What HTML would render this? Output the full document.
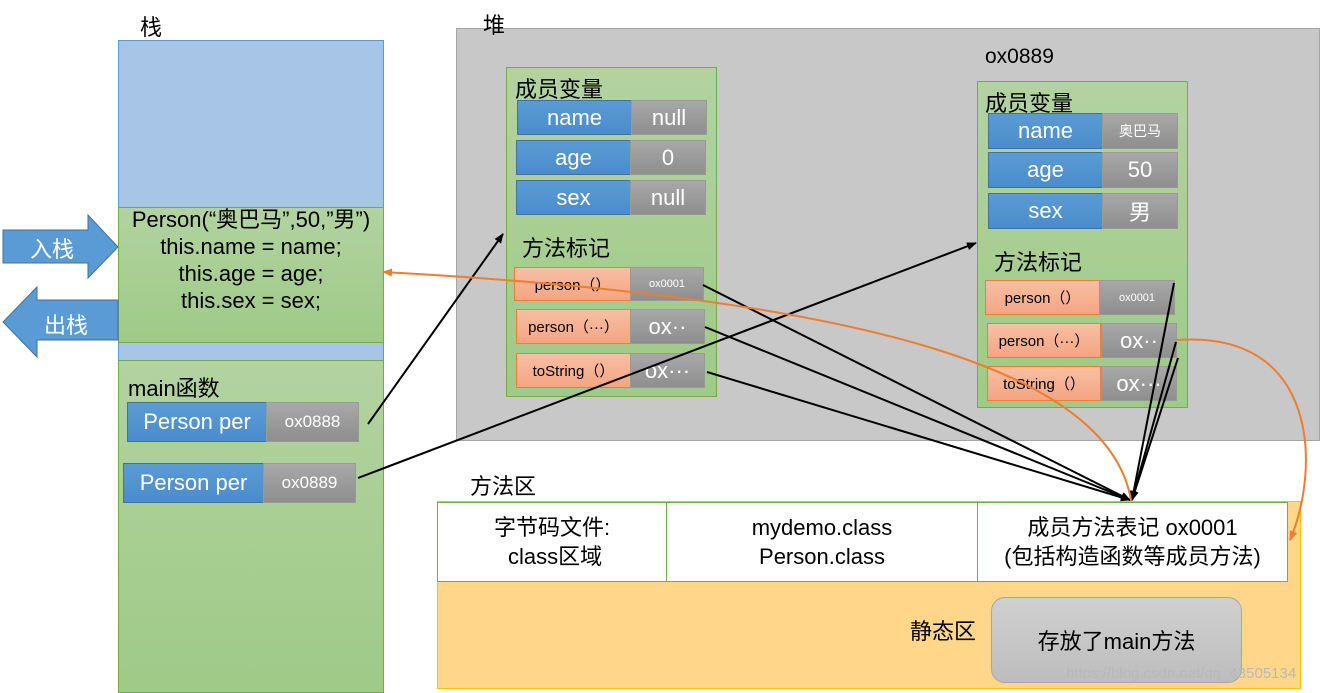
<!DOCTYPE html>
<html><head><meta charset="utf-8"><style>
*{margin:0;padding:0;box-sizing:border-box}
body{width:1320px;height:693px;position:relative;background:#fff;overflow:hidden;font-family:"Liberation Sans","Noto Sans CJK SC",sans-serif;color:#000}
.a{position:absolute;display:flex;align-items:center;justify-content:center;text-align:center}
.t{position:absolute;white-space:nowrap}
.bl{background:linear-gradient(#5b9bd5,#4a8ccc);color:#fff;border:1px solid #41719c;font-size:22px}
.gr{background:linear-gradient(#a8a8a8,#8e8e8e);color:#fff;border:1px solid #999;font-size:22px}
.or{background:linear-gradient(#f8bfa2,#f4a583);border:1px solid #ed7d31;font-size:15px}
.grn{background:linear-gradient(#b2d3a0,#9fca87);border:1px solid #70ad47}
</style></head><body>
<div class="t" style="left:140px;top:10px;font-size:22px">栈</div>
<!-- stack -->
<div style="position:absolute;left:118px;top:40px;width:266px;height:652px;background:#a6c5e7;border:1px solid #5b9bd5"></div>
<div class="grn" style="position:absolute;left:118px;top:207px;width:266px;height:136px"></div>
<div class="t" style="left:108px;top:206px;width:286px;text-align:center;font-size:22px;line-height:27px">Person(“奥巴马”,50,”男”)<br>this.name = name;<br>this.age = age;<br>this.sex = sex;</div>
<div class="grn" style="position:absolute;left:118px;top:360px;width:266px;height:333px"></div>
<div class="t" style="left:128px;top:371px;font-size:22px">main函数</div>
<div class="a bl" style="left:127px;top:402px;width:140px;height:40px">Person per</div>
<div class="a gr" style="left:266px;top:402px;width:93px;height:40px;font-size:17px">ox0888</div>
<div class="a bl" style="left:123px;top:463px;width:141px;height:40px">Person per</div>
<div class="a gr" style="left:263px;top:463px;width:93px;height:40px;font-size:17px">ox0889</div>
<!-- arrows in/out -->
<svg style="position:absolute;left:0;top:0" width="1320" height="693">
<polygon points="3,230 88,230 88,215 118,247 88,278 88,263 3,263" fill="#5b9bd5" stroke="#41719c"/>
<polygon points="118,300 37,300 37,287 3,322 37,357 37,340 118,340" fill="#5b9bd5" stroke="#41719c"/>
</svg>
<div class="t" style="left:30px;top:232px;font-size:22px;color:#fff">入栈</div>
<div class="t" style="left:44px;top:308px;font-size:22px;color:#fff">出栈</div>
<!-- heap -->
<div style="position:absolute;left:456px;top:28px;width:864px;height:413px;background:#c8c8c8;border:1px solid #a5a5a5"></div>
<div class="t" style="left:483px;top:8px;font-size:22px">堆</div>
<div class="grn" style="position:absolute;left:506px;top:67px;width:211px;height:330px"></div>
<div class="t" style="left:515px;top:72px;font-size:22px">成员变量</div>
<div class="a bl" style="left:517px;top:100px;width:115px;height:35px">name</div>
<div class="a gr" style="left:631px;top:100px;width:76px;height:35px">null</div>
<div class="a bl" style="left:516px;top:140px;width:115px;height:35px">age</div>
<div class="a gr" style="left:630px;top:140px;width:76px;height:35px">0</div>
<div class="a bl" style="left:516px;top:180px;width:115px;height:35px">sex</div>
<div class="a gr" style="left:630px;top:180px;width:76px;height:35px">null</div>
<div class="t" style="left:522px;top:231px;font-size:22px">方法标记</div>
<div class="a or" style="left:514px;top:267px;width:117px;height:34px">person（）</div>
<div class="a gr" style="left:630px;top:267px;width:74px;height:34px;font-size:11px">ox0001</div>
<div class="a or" style="left:516px;top:309px;width:115px;height:35px">person（···）</div>
<div class="a gr" style="left:630px;top:309px;width:75px;height:35px">ox··</div>
<div class="a or" style="left:516px;top:353px;width:115px;height:35px">toString（）</div>
<div class="a gr" style="left:630px;top:353px;width:75px;height:35px">ox···</div>
<div class="t" style="left:985px;top:45px;font-size:21px">ox0889</div>
<div class="grn" style="position:absolute;left:977px;top:81px;width:211px;height:327px"></div>
<div class="t" style="left:985px;top:86px;font-size:22px">成员变量</div>
<div class="a bl" style="left:988px;top:113px;width:115px;height:36px">name</div>
<div class="a gr" style="left:1102px;top:113px;width:76px;height:36px;font-size:14px">奥巴马</div>
<div class="a bl" style="left:988px;top:152px;width:115px;height:36px">age</div>
<div class="a gr" style="left:1102px;top:152px;width:76px;height:36px">50</div>
<div class="a bl" style="left:988px;top:193px;width:115px;height:36px">sex</div>
<div class="a gr" style="left:1102px;top:193px;width:76px;height:36px">男</div>
<div class="t" style="left:994px;top:245px;font-size:22px">方法标记</div>
<div class="a or" style="left:985px;top:280px;width:115px;height:35px">person（）</div>
<div class="a gr" style="left:1099px;top:280px;width:76px;height:35px;font-size:11px">ox0001</div>
<div class="a or" style="left:987px;top:323px;width:114px;height:35px">person（···）</div>
<div class="a gr" style="left:1101px;top:323px;width:76px;height:35px">ox··</div>
<div class="a or" style="left:987px;top:366px;width:114px;height:35px">toString（）</div>
<div class="a gr" style="left:1101px;top:366px;width:76px;height:35px">ox···</div>
<!-- method area -->
<div class="t" style="left:470px;top:469px;font-size:22px">方法区</div>
<div style="position:absolute;left:437px;top:501px;width:864px;height:188px;background:#ffd68a;border:1px solid #ffc000"></div>
<div class="a" style="left:437px;top:502px;width:230px;height:80px;background:#fff;border:1px solid #70ad47;font-size:22px;line-height:29px">字节码文件:<br>&nbsp;class区域</div>
<div class="a" style="left:666px;top:502px;width:312px;height:80px;background:#fff;border:1px solid #70ad47;font-size:22px;line-height:29px">mydemo.class<br>Person.class</div>
<div class="a" style="left:977px;top:502px;width:311px;height:80px;background:#fff;border:1px solid #70ad47;font-size:22px;line-height:29px">成员方法表记 ox0001<br>(包括构造函数等成员方法)</div>
<div class="t" style="left:910px;top:614px;font-size:22px">静态区</div>
<div class="a" style="left:991px;top:597px;width:251px;height:86px;background:linear-gradient(#d0d0d0,#bdbdbd);border:1px solid #a5a5a5;border-radius:14px;font-size:22px">存放了main方法</div>
<div class="t" style="left:1066px;top:665px;font-size:15px;color:#b8b8b8">https://blog.csdn.net/qq_43505134</div>
<!-- connectors -->
<svg style="position:absolute;left:0;top:0" width="1320" height="693">
<defs>
<marker id="k" markerWidth="10" markerHeight="10" refX="9" refY="5" orient="auto" markerUnits="userSpaceOnUse"><path d="M0,1 L10,5 L0,9 z" fill="#000"/></marker>
<marker id="o" markerWidth="10" markerHeight="10" refX="9" refY="5" orient="auto" markerUnits="userSpaceOnUse"><path d="M0,1 L10,5 L0,9 z" fill="#ed7d31"/></marker>
</defs>
<g stroke="#000" stroke-width="2" fill="none">
<line x1="368" y1="424" x2="503" y2="234" marker-end="url(#k)"/>
<line x1="358" y1="478" x2="976" y2="243" marker-end="url(#k)"/>
<line x1="703" y1="285" x2="1130" y2="500" marker-end="url(#k)"/>
<line x1="705" y1="327" x2="1130" y2="500" marker-end="url(#k)"/>
<line x1="707" y1="372" x2="1130" y2="500" marker-end="url(#k)"/>
<line x1="1174" y1="283" x2="1132" y2="500" marker-end="url(#k)"/>
<line x1="1176" y1="342" x2="1132" y2="500" marker-end="url(#k)"/>
<line x1="1178" y1="358" x2="1132" y2="500" marker-end="url(#k)"/>
</g>
<g stroke="#ed7d31" stroke-width="2" fill="none">
<path d="M1131,500 C1110,380 900,300 383,272" marker-end="url(#o)"/>
<path d="M1177,340 C1320,330 1320,470 1290,540" marker-end="url(#o)"/>
</g>
</svg>
</body></html>
